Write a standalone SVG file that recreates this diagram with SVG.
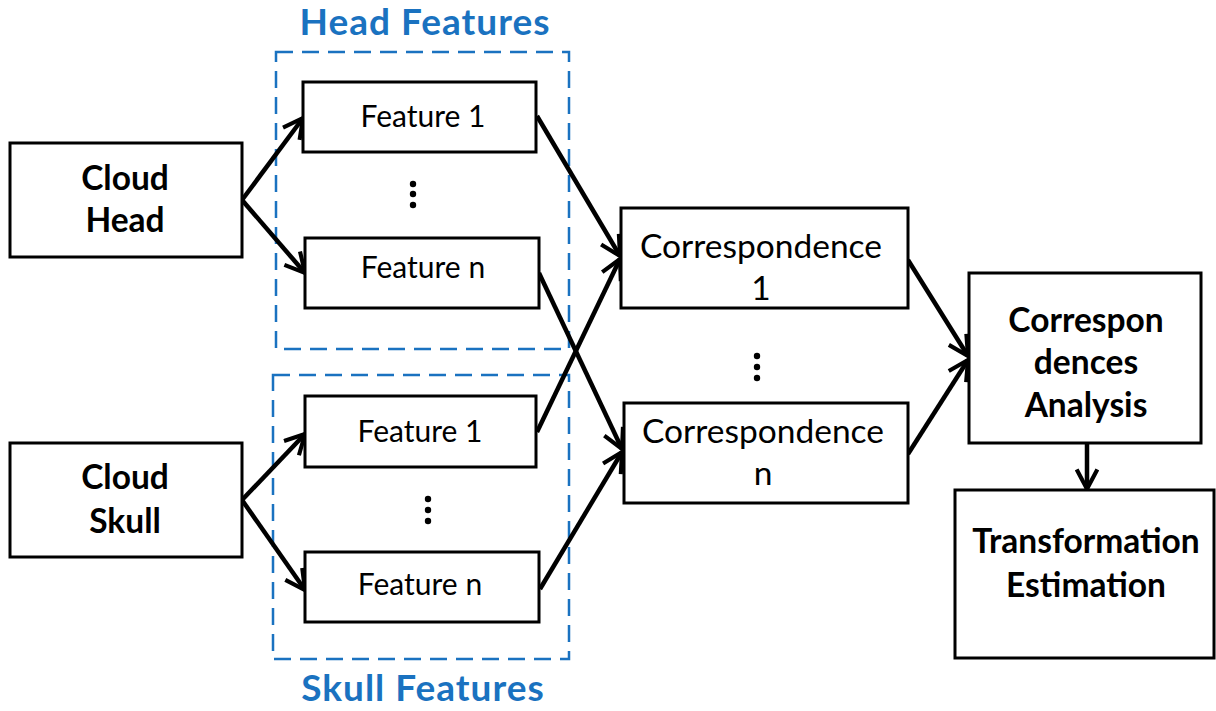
<svg xmlns="http://www.w3.org/2000/svg" width="1216" height="711" viewBox="0 0 1216 711">
  <defs>
    <style>
      .box { fill: #ffffff; stroke: #000000; stroke-width: 3; }
      .group { fill: none; stroke: #1a72c0; stroke-width: 2.5; stroke-dasharray: 17 9; }
      .title { font-family: Lato, "Liberation Sans", sans-serif; font-weight: bold; font-size: 37px; letter-spacing: 1px; fill: #1a72c0; text-anchor: middle; }
      .bold { font-family: Lato, "Liberation Sans", sans-serif; font-weight: bold; font-size: 33.5px; fill: #000000; text-anchor: middle; }
      .reg { font-family: Lato, "Liberation Sans", sans-serif; font-size: 30px; fill: #000000; text-anchor: middle; }
      .regl { font-family: Lato, "Liberation Sans", sans-serif; font-size: 33.5px; fill: #000000; text-anchor: middle; }
      .edge { fill: none; stroke: #000000; stroke-width: 4.5; marker-end: url(#arrow); }
      .dot { fill: #000000; }
    </style>
    <marker id="arrow" viewBox="0 0 12 12" refX="10.5" refY="6" markerWidth="5.5" markerHeight="5.5" orient="auto" markerUnits="strokeWidth">
      <path d="M1,1 L10.5,6 L1,11" fill="none" stroke="#000000" stroke-width="2"/>
    </marker>
  </defs>

  <!-- dashed feature groups with their captions -->
  <g id="head-features">
    <rect class="group" x="276" y="52" width="293" height="297"/>
    <text class="title" x="425" y="35">Head Features</text>
  </g>
  <g id="skull-features">
    <rect class="group" x="273" y="375" width="296" height="284"/>
    <text class="title" x="423" y="701">Skull Features</text>
  </g>

  <!-- connectors -->
  <g id="connectors">
    <path class="edge" d="M242,200 L303,118"/>
    <path class="edge" d="M242,200 L305,273"/>
    <path class="edge" d="M242,500 L305,434"/>
    <path class="edge" d="M242,500 L305,590"/>
    <path class="edge" d="M537,116 L620,256"/>
    <path class="edge" d="M539,273 L622,449"/>
    <path class="edge" d="M537,432 L620,259"/>
    <path class="edge" d="M540,589 L622,452"/>
    <path class="edge" d="M908,260 L968,356"/>
    <path class="edge" d="M908,454 L968,360"/>
    <path class="edge" d="M1087,444 L1087,489"/>
  </g>

  <g id="cloud-head">
    <rect class="box" x="10" y="143" width="232" height="114"/>
    <text class="bold" x="125" y="190">Cloud</text>
    <text class="bold" x="125" y="232">Head</text>
  </g>
  <g id="cloud-skull">
    <rect class="box" x="10" y="443" width="232" height="114"/>
    <text class="bold" x="125" y="489">Cloud</text>
    <text class="bold" x="125" y="533">Skull</text>
  </g>

  <g id="head-feature-1">
    <rect class="box" x="303" y="82" width="233" height="70"/>
    <text class="reg" x="423" y="127">Feature 1</text>
  </g>
  <g id="head-dots">
    <circle class="dot" cx="413" cy="184" r="3.2"/>
    <circle class="dot" cx="413" cy="194" r="3.2"/>
    <circle class="dot" cx="413" cy="205" r="3.2"/>
  </g>
  <g id="head-feature-n">
    <rect class="box" x="305" y="238" width="234" height="70"/>
    <text class="reg" x="423" y="278">Feature n</text>
  </g>

  <g id="skull-feature-1">
    <rect class="box" x="305" y="396" width="231" height="71"/>
    <text class="reg" x="420" y="442">Feature 1</text>
  </g>
  <g id="skull-dots">
    <circle class="dot" cx="428" cy="499" r="3.2"/>
    <circle class="dot" cx="428" cy="510" r="3.2"/>
    <circle class="dot" cx="428" cy="521" r="3.2"/>
  </g>
  <g id="skull-feature-n">
    <rect class="box" x="305" y="552" width="234" height="70"/>
    <text class="reg" x="420" y="595">Feature n</text>
  </g>

  <g id="correspondence-1">
    <rect class="box" x="621" y="208" width="287" height="100"/>
    <text class="regl" x="761" y="258">Correspondence</text>
    <text class="regl" x="761" y="300">1</text>
  </g>
  <g id="correspondence-dots">
    <circle class="dot" cx="757" cy="356" r="3.2"/>
    <circle class="dot" cx="757" cy="367" r="3.2"/>
    <circle class="dot" cx="757" cy="378" r="3.2"/>
  </g>
  <g id="correspondence-n">
    <rect class="box" x="624" y="403" width="284" height="100"/>
    <text class="regl" x="763" y="443">Correspondence</text>
    <text class="regl" x="763" y="485">n</text>
  </g>

  <g id="correspondences-analysis">
    <rect class="box" x="969" y="273" width="232" height="170"/>
    <text class="bold" x="1086" y="332">Correspon</text>
    <text class="bold" x="1086" y="374">dences</text>
    <text class="bold" x="1086" y="417">Analysis</text>
  </g>

  <g id="transformation-estimation">
    <rect class="box" x="955" y="490" width="259" height="168"/>
    <text class="bold" x="1086" y="553">Transformation</text>
    <text class="bold" x="1086" y="597">Estimation</text>
  </g>
</svg>
